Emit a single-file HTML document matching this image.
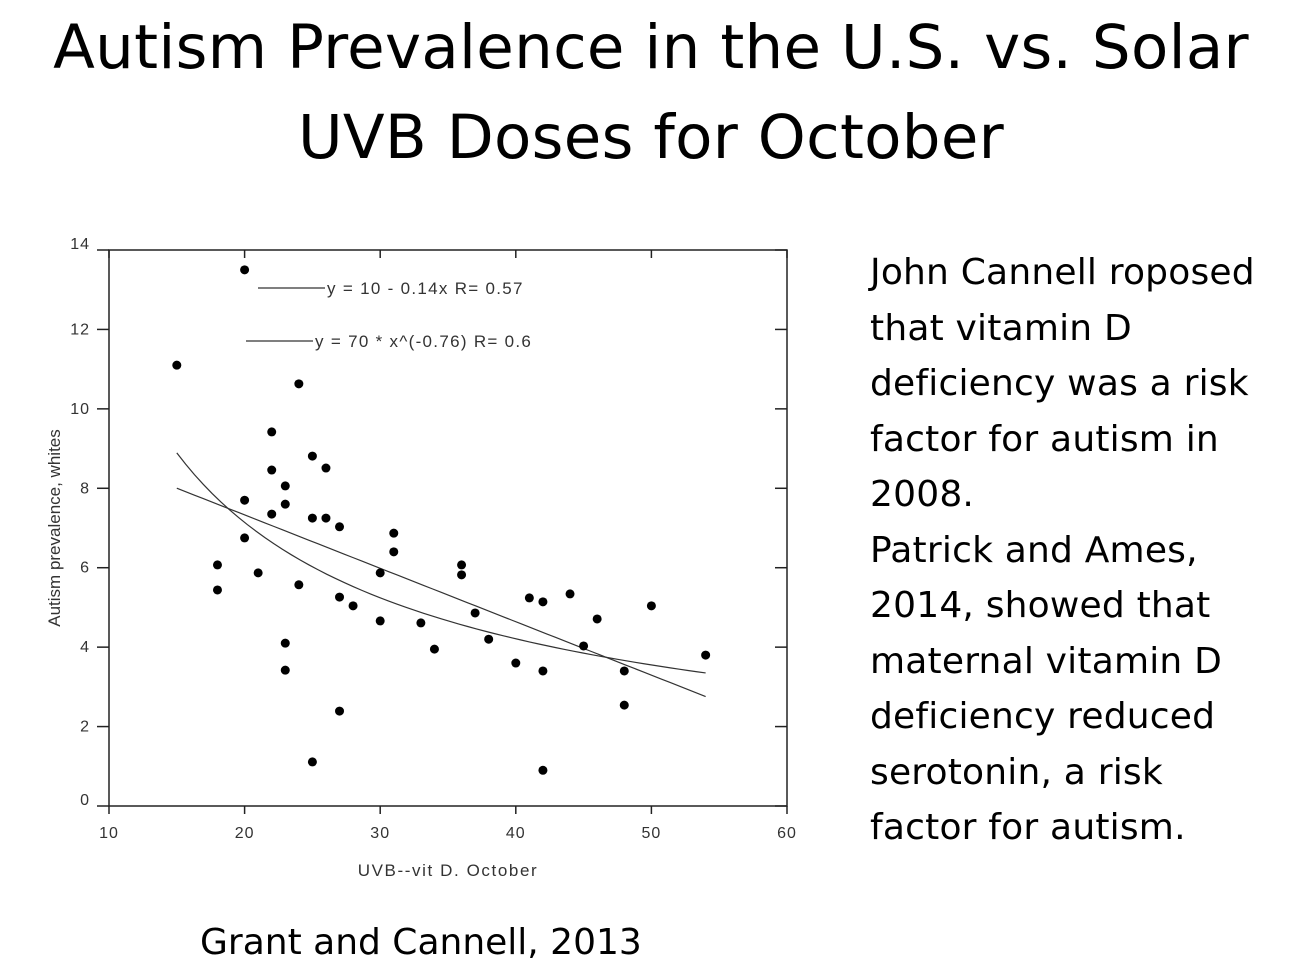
<!DOCTYPE html>
<html><head><meta charset="utf-8"><style>
body{margin:0;width:1302px;height:966px;background:#fff;overflow:hidden;position:relative;font-family:"Liberation Sans",sans-serif}
#title{position:absolute;left:0;top:3px;width:1302px;text-align:center;font-family:"DejaVu Sans","Liberation Sans",sans-serif;font-size:61px;line-height:90px;color:#000;letter-spacing:0.3px}
#notes{position:absolute;left:870px;top:245px;font-family:"DejaVu Sans","Liberation Sans",sans-serif;font-size:36px;line-height:55.5px;color:#000;letter-spacing:0.2px}
#cite{position:absolute;left:200px;top:922px;font-family:"DejaVu Sans","Liberation Sans",sans-serif;font-size:36px;color:#000}
svg{position:absolute;left:0;top:0}
</style></head><body>
<div id="title">Autism Prevalence in the U.S. vs. Solar<br>UVB Doses for October</div>
<div id="notes">John Cannell roposed<br>that vitamin D<br>deficiency was a risk<br>factor for autism in<br>2008.<br>Patrick and Ames,<br>2014, showed that<br>maternal vitamin D<br>deficiency reduced<br>serotonin, a risk<br>factor for autism.</div>
<div id="cite">Grant and Cannell, 2013</div>
<svg id="chart" width="1302" height="966"></svg>
<script>
const xVals=[15,20,20,20,18,18,21,22,22,22,23,23,24,24,23,23,25,25,26,26,27,27,27,28,25,30,30,31,31,33,34,36,36,37,38,40,41,42,42,42,44,45,46,48,48,50,54];
const yVals=[11.1,13.5,7.7,6.75,6.07,5.44,5.87,9.42,8.46,7.35,8.06,7.6,10.63,5.57,4.1,3.42,8.81,7.25,8.51,7.25,7.03,5.26,2.39,5.04,1.11,5.87,4.66,6.87,6.4,4.61,3.95,6.07,5.82,4.86,4.2,3.6,5.24,5.14,3.4,0.9,5.34,4.03,4.71,3.4,2.54,5.04,3.8];
const xTicks=[10,20,30,40,50,60];
const yTicks=[0,2,4,6,8,10,12,14];
const linA=10.02, linB=-0.1345;
const powA=70, powB=-0.762;
const fitRange=[15,54];
const NS="http://www.w3.org/2000/svg";
const svg=document.getElementById('chart');
const X0=109,X1=787,Y0=806,Y1=250;
const sx=v=>X0+(v-10)/50*(X1-X0);
const sy=v=>Y0-v/14*(Y0-Y1);
function mk(t,a,p){const e=document.createElementNS(NS,t);for(const k in a)e.setAttribute(k,a[k]);(p||svg).appendChild(e);return e;}
const frame=mk('rect',{x:X0,y:Y1,width:X1-X0,height:Y0-Y1,fill:'none',stroke:'#222','stroke-width':1.5});


xTicks.forEach(t=>{const x=sx(t);
 mk('line',{x1:x,x2:x,y1:Y0,y2:Y0+8,stroke:'#222','stroke-width':1.5});
 mk('line',{x1:x,x2:x,y1:Y1,y2:Y1+8,stroke:'#222','stroke-width':1.5});
 const l=mk('text',{x:x,y:Y0+32,'text-anchor':'middle','font-size':16,fill:'#333','letter-spacing':1});l.textContent=t;
 
 });
yTicks.forEach(t=>{const y=sy(t);
 mk('line',{x1:X0-12,x2:X0,y1:y,y2:y,stroke:'#222','stroke-width':1.5});
 mk('line',{x1:X1-12,x2:X1,y1:y,y2:y,stroke:'#222','stroke-width':1.5});
 const l=mk('text',{x:90,y:y+5-(t===0||t===14?6:0),'text-anchor':'end','font-size':16,fill:'#333','letter-spacing':1});l.textContent=t;
 
 });
const xt=mk('text',{x:448,y:876,'text-anchor':'middle','font-size':17,fill:'#333','letter-spacing':1.6});xt.textContent='UVB--vit D. October';


const yt=mk('text',{x:60,y:528,'text-anchor':'middle','font-size':17,fill:'#333',transform:'rotate(-90 60 528)'});yt.textContent='Autism prevalence, whites';


let d1='',d2='';
for(let i=0;i<=60;i++){const x=fitRange[0]+(fitRange[1]-fitRange[0])*i/60;
 d1+=(i?'L':'M')+sx(x)+' '+sy(linA+linB*x);
 d2+=(i?'L':'M')+sx(x)+' '+sy(powA*Math.pow(x,powB));}
const f1=mk('path',{d:d1,fill:'none',stroke:'#333','stroke-width':1.2});


const f2=mk('path',{d:d2,fill:'none',stroke:'#333','stroke-width':1.2});


xVals.forEach((x,i)=>{const c=mk('circle',{cx:sx(x),cy:sy(yVals[i]),r:4.5,fill:'#000'});
 
 });
mk('line',{x1:258,x2:325,y1:288,y2:288,stroke:'#333','stroke-width':1.2});
const lg1=mk('text',{x:327,y:294,'font-size':17,fill:'#333','letter-spacing':1.3,'xml:space':'preserve'});lg1.textContent='y = 10 - 0.14x   R= 0.57';


mk('line',{x1:246,x2:313,y1:341,y2:341,stroke:'#333','stroke-width':1.2});
const lg2=mk('text',{x:315,y:347,'font-size':17,fill:'#333','letter-spacing':1.3,'xml:space':'preserve'});lg2.textContent='y = 70 * x^(-0.76)   R= 0.6';


</script>
</body></html>
